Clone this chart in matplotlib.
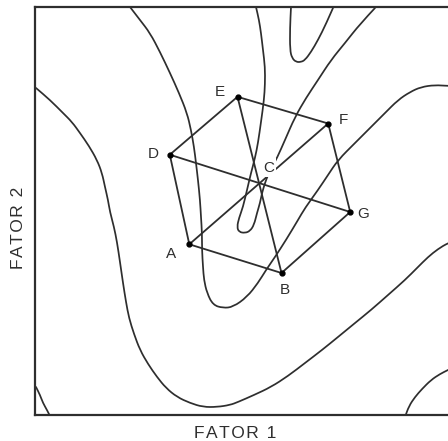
import matplotlib
matplotlib.use("Agg")
import matplotlib.pyplot as plt
from matplotlib.path import Path
from matplotlib.patches import PathPatch

# factor plane, coordinates in plot units (y grows downward)
verts = {
    "A": (189.3, 244.3),
    "B": (281.5, 273.0),
    "D": (169.8, 154.7),
    "E": (237.5, 96.8),
    "F": (328.2, 123.5),
    "G": (350.2, 212.0),
}
label_pos = {
    "A": (171.5, 254.5),
    "B": (284.5, 290.0),
    "C": (268.5, 167.5),
    "D": (153.5, 154.5),
    "E": (220.0, 91.5),
    "F": (343.5, 120.5),
    "G": (363.5, 214.0),
}
hexagon = ["A", "B", "G", "F", "E", "D", "A"]
diagonals = [("E", "B"), ("D", "G"), ("A", "F")]

# response contours
curve_left = [(36, 88), (50, 100), (63, 113), (72, 122), (80, 133), (89, 146), (97, 160),
              (102, 173), (105, 187), (108, 200), (110, 212), (114, 227), (117, 242),
              (120, 262), (123, 283), (126, 302), (129, 318), (134, 334), (140, 350),
              (148, 364), (157, 377), (166, 388), (177, 397), (190, 403), (203, 407),
              (217, 407), (230, 405), (238, 402), (254, 395), (271, 387), (288, 376),
              (305, 363), (322, 350), (338, 337), (355, 323), (371, 310), (388, 295),
              (405, 280), (417, 268), (428, 257), (438, 249), (448, 243), (460, 238)]
curve_u = [(130, 7), (140, 20), (150, 33), (160, 52), (170, 73), (179, 93), (187, 113),
           (191, 130), (194, 147), (196, 163), (198, 180), (200, 200), (201, 217),
           (202, 233), (202, 250), (203, 267), (204, 280), (207, 293), (213, 305),
           (223, 308), (233, 307), (247, 297), (258, 283), (266, 270), (275, 257),
           (286, 240), (298, 220), (305, 208), (318, 190), (328, 175), (338, 160),
           (355, 143), (371, 127), (385, 113), (398, 100), (410, 92), (421, 87),
           (435, 85), (448, 86), (460, 86)]
curve_loop = [(256, 7), (259, 20), (261, 33), (263, 50), (265, 67), (265, 84), (264, 100),
              (261, 122), (258, 143), (255, 158), (251, 173), (247, 190), (243, 207),
              (239, 218), (237, 227), (239, 232), (245, 233), (250, 231), (254, 225),
              (257, 213), (260, 203), (262, 193), (265, 183), (268, 175), (272, 167),
              (277, 158), (285, 140), (295, 117), (306, 98), (318, 80), (331, 60),
              (345, 43), (360, 24), (375, 8)]
curve_top = [(291, 7), (290, 28), (290, 50), (292, 58), (296, 62), (301, 62), (305, 60),
             (311, 52), (318, 40), (326, 24), (333, 8)]
curve_br = [(405, 417), (409, 406), (415, 397), (422, 389), (431, 380), (440, 374),
            (448, 370), (460, 364)]
curve_bl = [(36, 387), (40, 395), (43, 403), (47, 410), (50, 416)]

ink = "#2e2e2e"
fam = ["Liberation Sans", "DejaVu Sans"]


def smooth_path(pts):
    # quadratic bezier through midpoints, traced points act as control points
    mids = [((pts[i][0] + pts[i + 1][0]) / 2, (pts[i][1] + pts[i + 1][1]) / 2)
            for i in range(len(pts) - 1)]
    v = [pts[0], mids[0]]
    codes = [Path.MOVETO, Path.LINETO]
    for i in range(1, len(pts) - 1):
        v += [pts[i], mids[i] if i < len(mids) - 1 else pts[-1]]
        codes += [Path.CURVE3, Path.CURVE3]
    return Path(v, codes)


fig = plt.figure(figsize=(4.48, 4.41), dpi=100)
ax = fig.add_axes([35 / 448, 26 / 441, 435 / 448, 408 / 441])
ax.set_xlim(35, 470)
ax.set_ylim(415, 7)
ax.set_xticks([])
ax.set_yticks([])
for side in ["left", "top", "bottom", "right"]:
    ax.spines[side].set_linewidth(1.6)
    ax.spines[side].set_color(ink)

for c in [curve_left, curve_u, curve_loop, curve_top, curve_br, curve_bl]:
    ax.add_patch(PathPatch(smooth_path(c), fc="none", ec=ink, lw=1.25,
                           capstyle="round", joinstyle="round"))

for i in range(len(hexagon) - 1):
    p, q = verts[hexagon[i]], verts[hexagon[i + 1]]
    ax.plot([p[0], q[0]], [p[1], q[1]], color=ink, lw=1.3)
for a, b in diagonals:
    p, q = verts[a], verts[b]
    ax.plot([p[0], q[0]], [p[1], q[1]], color=ink, lw=1.3)

ax.plot([v[0] for v in verts.values()], [v[1] for v in verts.values()],
        "o", color="black", ms=3.5, zorder=5)

for name, (x, y) in label_pos.items():
    bb = None
    if name == "C":
        bb = dict(boxstyle="square,pad=0.15", fc="white", ec="none")
    ax.text(x, y, name, ha="center", va="center", fontsize=11, color=ink,
            family=fam, bbox=bb, zorder=6)

hs = "\u200a"
fig.text(235 / 448, 1 - 434 / 441, hs.join("FATOR 1"), ha="center", va="center",
         fontsize=12.5, color=ink, family=fam)
fig.text(18.5 / 448, 1 - 228 / 441, hs.join("FATOR 2"), ha="center", va="center",
         rotation=90, fontsize=12.5, color=ink, family=fam)

fig.savefig("out.png", dpi=100)
